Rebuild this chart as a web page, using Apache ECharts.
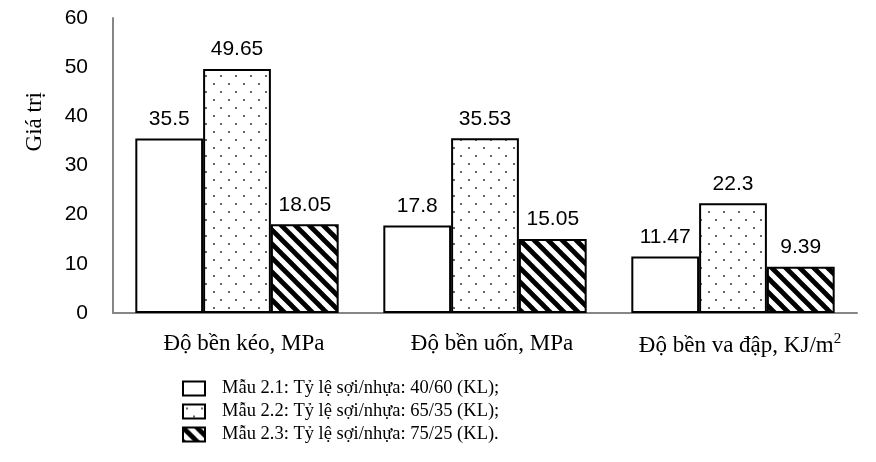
<!DOCTYPE html>
<html>
<head>
<meta charset="utf-8">
<script src="https://cdn.jsdelivr.net/npm/echarts@6/dist/echarts.min.js"></script>
<style>
  html, body { margin: 0; padding: 0; background: #fff; }
  #chart { width: 876px; height: 462px; }
</style>
</head>
<body>
<div id="chart"></div>
<script>
// Mechanical properties of fibre/resin composite samples
const categories = ['Độ bền kéo, MPa', 'Độ bền uốn, MPa', 'Độ bền va đập, KJ/m{sup|2}'];
const seriesNames = [
  'Mẫu 2.1: Tỷ lệ sợi/nhựa: 40/60 (KL);',
  'Mẫu 2.2: Tỷ lệ sợi/nhựa: 65/35 (KL);',
  'Mẫu 2.3: Tỷ lệ sợi/nhựa: 75/25 (KL).'
];
const mau21 = [35.5, 17.8, 11.47];
const mau22 = [49.65, 35.53, 22.3];
const mau23 = [18.05, 15.05, 9.39];
const yTicks = [0, 10, 20, 30, 40, 50, 60];

// Fill patterns
function dotPattern() {
  const c = document.createElement('canvas');
  c.width = 15; c.height = 16;
  const g = c.getContext('2d');
  g.fillStyle = '#fff';
  g.fillRect(0, 0, 15, 16);
  g.fillStyle = '#666';
  g.fillRect(3, 3, 2, 2);
  g.fillRect(10, 11, 2, 2);
  return c;
}
function hatchPattern() {
  const s = 14;
  const c = document.createElement('canvas');
  c.width = s; c.height = s;
  const g = c.getContext('2d');
  g.fillStyle = '#fff';
  g.fillRect(0, 0, s, s);
  g.strokeStyle = '#000';
  g.lineWidth = 4.8;
  for (let k = -1; k <= 1; k++) {
    g.beginPath();
    g.moveTo(k * s - 2, -2);
    g.lineTo(k * s + s + 2, s + 2);
    g.stroke();
  }
  return c;
}

const fills = [
  '#ffffff',
  { image: dotPattern(), repeat: 'repeat' },
  { image: hatchPattern(), repeat: 'repeat' }
];
const values = [mau21, mau22, mau23];

const chart = echarts.init(document.getElementById('chart'));
chart.setOption({
  animation: false,
  backgroundColor: '#fff',
  grid: { left: 113, right: 19, top: 18, bottom: 149, containLabel: false },
  legend: {
    orient: 'vertical',
    left: 177,
    top: 374,
    itemWidth: 22,
    itemHeight: 14,
    itemGap: 4,
    icon: 'rect',
    data: seriesNames,
    textStyle: {
      fontFamily: 'Liberation Serif',
      fontSize: 18.5,
      color: '#000',
      padding: [0, 0, 0, 12]
    }
  },
  xAxis: {
    type: 'category',
    data: categories,
    axisLine: { show: true, lineStyle: { color: '#868686', width: 2 } },
    axisTick: { show: false },
    axisLabel: {
      interval: 0,
      margin: 19,
      padding: [0, 0, 0, 14],
      color: '#000',
      fontFamily: 'Liberation Serif',
      fontSize: 23,
      rich: {
        sup: {
          fontFamily: 'Liberation Serif',
          fontSize: 15,
          verticalAlign: 'top',
          padding: [0, 0, 12, 0],
          color: '#000'
        }
      }
    }
  },
  yAxis: {
    type: 'value',
    min: yTicks[0],
    max: yTicks[yTicks.length - 1],
    interval: 10,
    splitLine: { show: false },
    axisLine: { show: true, lineStyle: { color: '#868686', width: 2 } },
    axisTick: { show: false },
    axisLabel: {
      margin: 25,
      color: '#000',
      fontFamily: 'Liberation Sans',
      fontSize: 21
    }
  },
  graphic: [{
    type: 'text',
    left: 23,
    top: 92,
    rotation: Math.PI / 2,
    style: {
      text: 'Giá trị',
      font: '23px "Liberation Serif"',
      fill: '#000'
    }
  }],
  series: values.map((v, i) => ({
    name: seriesNames[i],
    type: 'bar',
    data: v,
    barGap: '0%',
    barCategoryGap: '18%',
    itemStyle: { color: fills[i], borderColor: '#000', borderWidth: 2 },
    label: {
      show: true,
      position: 'top',
      distance: 9,
      color: '#000',
      fontFamily: 'Liberation Sans',
      fontSize: 21
    }
  }))
});
</script>
</body>
</html>
